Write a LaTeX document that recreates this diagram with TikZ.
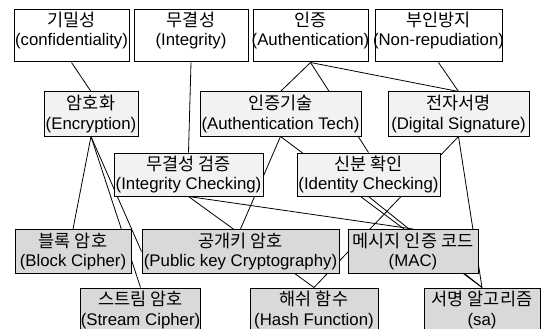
\documentclass[tikz,border=0pt]{standalone}
\usepackage{fontspec}
\setmainfont{Liberation Sans}
\newfontfamily\kr{Noto Sans CJK KR}
\usetikzlibrary{backgrounds}
\newcommand{\K}[1]{{\kr\fontsize{17.5}{19.5}\selectfont #1}}
\definecolor{lightbox}{HTML}{F2F2F2}
\definecolor{darkbox}{HTML}{D9D9D9}
\tikzset{
  edge/.style={line width=0.8pt, black},
  basebox/.style={draw=black, line width=1pt, inner sep=0pt, align=center,
    font=\fontsize{16.8}{19.5}\selectfont},
  boxw/.style={basebox, fill=white},
  boxl/.style={basebox, fill=lightbox},
  boxd/.style={basebox, fill=darkbox},
  txt/.style={align=center, inner sep=0pt, font=\fontsize{16.8}{19.5}\selectfont},
}
\begin{document}
\begin{tikzpicture}[x=1pt,y=-1pt]
\useasboundingbox (0,0) rectangle (544,329);
\clip (0,0) rectangle (544,329);
% Row 1
\node[boxw, minimum width=115, minimum height=52] (conf) at (71.5,36) {};
\node[txt] (conf-t) at (71.5,30.5) {\K{기밀성}\\(confidentiality)};
\node[boxw, minimum width=114, minimum height=52] (integ) at (191,36) {};
\node[txt] (integ-t) at (191,30.5) {\K{무결성}\\(Integrity)};
\node[boxw, minimum width=115, minimum height=52] (auth) at (310.5,36) {};
\node[txt] (auth-t) at (310.5,30.5) {\K{인증}\\(Authentication)};
\node[boxw, minimum width=127, minimum height=52] (nonrep) at (438.5,36) {};
\node[txt] (nonrep-t) at (438.5,30.5) {\K{부인방지}\\(Non{\kr -}repudiation)};
% Row 2
\node[boxl, minimum width=94, minimum height=44] (enc) at (91,114) {\K{암호화}\\(Encryption)};
\node[boxl, minimum width=161, minimum height=44] (authtech) at (280.5,114) {\K{인증기술}\\(Authentication Tech)};
\node[boxl, minimum width=141, minimum height=44] (digsig) at (458.5,114) {\K{전자서명}\\(Digital Signature)};
% Row 3
\node[boxl, minimum width=149, minimum height=43] (intchk) at (188.5,174.5) {\K{무결성 검증}\\(Integrity Checking)};
\node[boxl, minimum width=143, minimum height=43] (idchk) at (368.5,174.5) {\K{신분 확인}\\(Identity Checking)};
% Row 4
\node[boxd, minimum width=116, minimum height=44] (block) at (73,251.5) {\K{블록 암호}\\(Block Cipher)};
\node[boxd, minimum width=197, minimum height=44] (pub) at (240.5,251.5) {\K{공개키 암호}\\(Public key Cryptography)};
\node[boxd, minimum width=130, minimum height=44] (mac) at (413,251.5) {\K{메시지 인증 코드}\\(MAC)};
% Row 5
\node[boxd, minimum width=117, minimum height=44] (stream) at (140.5,310) {\K{스트림 암호}\\(Stream Cipher)};
\node[boxd, minimum width=128, minimum height=44] (hash) at (314,310) {\K{해쉬 함수}\\(Hash Function)};
\node[boxd, minimum width=116, minimum height=44] (sa) at (482,310) {\K{서명 알고리즘}\\(sa)};
% Edges
\begin{scope}[on background layer]
\draw[edge] (conf.south) -- (enc.north);
\draw[edge] (integ.south) -- (intchk.north);
\draw[edge] (auth.south) -- (authtech.north);
\draw[edge] (auth.south) -- (idchk.north);
\draw[edge] (auth.south) -- (digsig.north);
\draw[edge] (nonrep.south) -- (digsig.north);
\draw[edge] (enc.south) -- (block.north);
\draw[edge] (enc.south) -- (stream.north);
\draw[edge] (enc.south) -- (pub.west);
\draw[edge] (authtech.south) -- (pub.north);
\draw[edge] (authtech.south) -- (sa.north);
\draw[edge] (intchk.south) -- (hash.north);
\draw[edge] (intchk.south) -- (mac.north);
\draw[edge] (idchk.south) -- (sa.north);
\draw[edge] (digsig.south) -- (hash.north);
\draw[edge] (digsig.south) -- (sa.north);
\end{scope}
\end{tikzpicture}
\end{document}
